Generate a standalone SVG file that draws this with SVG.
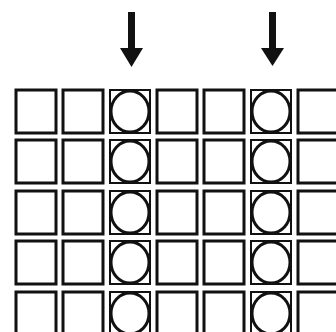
<svg xmlns="http://www.w3.org/2000/svg" width="336" height="332" viewBox="0 0 336 332">
<style>
.sq{fill:none;stroke:#111;stroke-width:3}
.cs{fill:none;stroke:#111;stroke-width:2}
.ci{fill:none;stroke:#111;stroke-width:3}
.ar{fill:#111}
</style>
<defs>
<g id="e"><rect class="sq" x="0" y="0" width="40" height="43"/></g>
<g id="c"><rect class="cs" x="0" y="0" width="40" height="43"/><ellipse class="ci" cx="20" cy="21.5" rx="19" ry="20.5"/></g>
</defs>
<rect width="336" height="332" fill="#fff"/>
<g id="connectors">
<g id="arrow1"><rect class="ar" x="128" y="12" width="7" height="38"/><polygon class="ar" points="120,48 143,48 131.5,67"/></g>
<g id="arrow2"><rect class="ar" x="269" y="12" width="7" height="38"/><polygon class="ar" points="261,48 284,48 272.5,66"/></g>
</g>
<g id="grid">
<g id="row1" transform="translate(0,90)">
<use href="#e" x="16"/><use href="#e" x="63"/><use href="#c" x="110"/><use href="#e" x="157"/><use href="#e" x="204"/><use href="#c" x="251"/><use href="#e" x="298"/>
</g>
<g id="row2" transform="translate(0,140)">
<use href="#e" x="16"/><use href="#e" x="63"/><use href="#c" x="110"/><use href="#e" x="157"/><use href="#e" x="204"/><use href="#c" x="251"/><use href="#e" x="298"/>
</g>
<g id="row3" transform="translate(0,191)">
<use href="#e" x="16"/><use href="#e" x="63"/><use href="#c" x="110"/><use href="#e" x="157"/><use href="#e" x="204"/><use href="#c" x="251"/><use href="#e" x="298"/>
</g>
<g id="row4" transform="translate(0,241)">
<use href="#e" x="16"/><use href="#e" x="63"/><use href="#c" x="110"/><use href="#e" x="157"/><use href="#e" x="204"/><use href="#c" x="251"/><use href="#e" x="298"/>
</g>
<g id="row5" transform="translate(0,292)">
<use href="#e" x="16"/><use href="#e" x="63"/><use href="#c" x="110"/><use href="#e" x="157"/><use href="#e" x="204"/><use href="#c" x="251"/><use href="#e" x="298"/>
</g>
</g>
</svg>
